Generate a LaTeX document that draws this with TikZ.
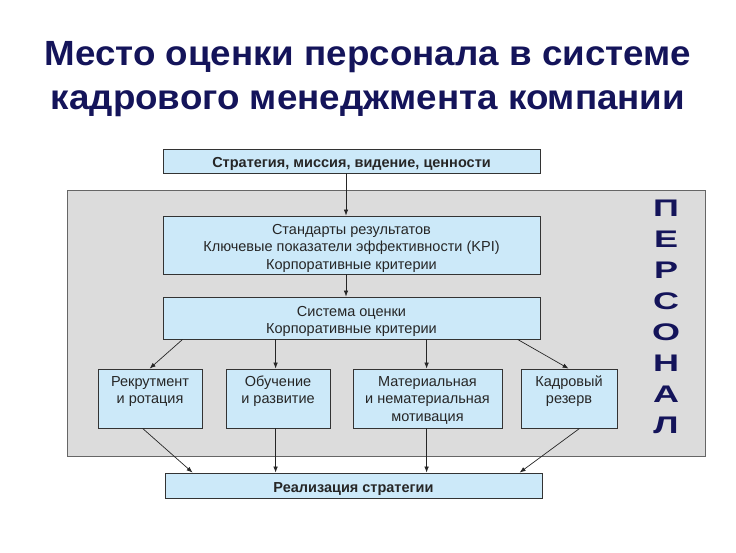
\documentclass[tikz,border=0pt]{standalone}
\usepackage{fontspec}
\setmainfont{Liberation Sans}
\newfontfamily\titlefont[FakeStretch=1.05]{Liberation Sans}
\newfontfamily\widefont[FakeStretch=1.5]{Liberation Sans}
\usetikzlibrary{arrows.meta,calc}
\definecolor{navy}{HTML}{14145A}
\definecolor{boxfill}{HTML}{CCE9F9}
\definecolor{panel}{HTML}{DCDCDC}
\newcommand\fl{\rule{0pt}{16.5pt}}
\newcommand\flsmall{\rule{0pt}{13.5pt}}
\tikzset{
  box/.style={draw=black!80, line width=0.8pt, fill=boxfill, align=center, inner sep=0pt, font=\fontsize{14.5}{17.3}\selectfont, text=black!85},
  arr/.style={-{Latex[length=6pt,width=4.5pt]}, line width=0.7pt, black!85},
  letter/.style={font=\widefont\fontsize{24}{24}\bfseries\selectfont, text=navy, inner sep=0pt}
}
\begin{document}
\begin{tikzpicture}[x=1pt,y=-1pt]
\useasboundingbox (0,0) rectangle (736,552);
\fill[white] (0,0) rectangle (736,552);
% title
\node[font=\titlefont\fontsize{35}{44.5}\bfseries\selectfont, text=navy, align=center] (title) at (368,79) {Место оценки персонала в системе\\кадрового менеджмента компании};
% panel
\node[draw=black!60, line width=0.8pt, fill=panel, minimum width=638pt, minimum height=266pt, inner sep=0pt] (panel) at (386,323) {};
% boxes
\node[box, minimum width=377pt, minimum height=24pt, font=\fontsize{14.5}{17}\bfseries\selectfont] (strat) at (351.5,161) {\fl Стратегия, миссия, видение, ценности};
\node[box, minimum width=377pt, minimum height=58pt] (std) at (351.5,245) {\fl Стандарты результатов\\Ключевые показатели эффективности (KPI)\\Корпоративные критерии};
\node[box, minimum width=377pt, minimum height=42pt] (sys) at (351.5,318) {\fl Система оценки\\Корпоративные критерии};
\node[box, minimum width=104pt, minimum height=59pt] (b1) at (150,398.5) {Рекрутмент\\и ротация\\~};
\node[box, minimum width=104pt, minimum height=59pt] (b2) at (278,398.5) {Обучение\\и развитие\\~};
\node[box, minimum width=149pt, minimum height=59pt] (b3) at (427.5,398.5) {\flsmall Материальная\\и нематериальная\\мотивация};
\node[box, minimum width=96pt, minimum height=59pt] (b4) at (569,398.5) {Кадровый\\резерв\\~};
\node[box, minimum width=377pt, minimum height=25pt, font=\fontsize{14.5}{17}\bfseries\selectfont] (real) at (353.5,485.5) {\fl Реализация стратегии};
% vertical word
\foreach \l [count=\i] in {П,Е,Р,С,О,Н,А,Л} {
  \node[letter] (L\i) at (666,177+31*\i) {\l};
}
% arrows
\draw[arr] ([xshift=-5.5pt]strat.south) -- ([xshift=-5.5pt]std.north);
\draw[arr] ([xshift=-5.5pt]std.south) -- ([xshift=-5.5pt]sys.north);
\draw[arr] ([xshift=20pt]sys.south west) -- ([xshift=52pt]b1.north west);
\draw[arr] ($(sys.south west)+(113,0)$) -- ($(b2.north west)+(50,0)$);
\draw[arr] ($(sys.south west)+(264,0)$) -- ($(b3.north west)+(74,0)$);
\draw[arr] ($(sys.south west)+(355,0)$) -- ($(b4.north west)+(48,0)$);
\draw[arr] ($(b1.south west)+(45,0)$) -- ($(real.north west)+(28,0)$);
\draw[arr] ($(b2.south west)+(50,0)$) -- ($(real.north west)+(111,0)$);
\draw[arr] ($(b3.south west)+(74,0)$) -- ($(real.north west)+(262,0)$);
\draw[arr] ($(b4.south west)+(59,0)$) -- ($(real.north west)+(355,0)$);
\end{tikzpicture}
\end{document}
